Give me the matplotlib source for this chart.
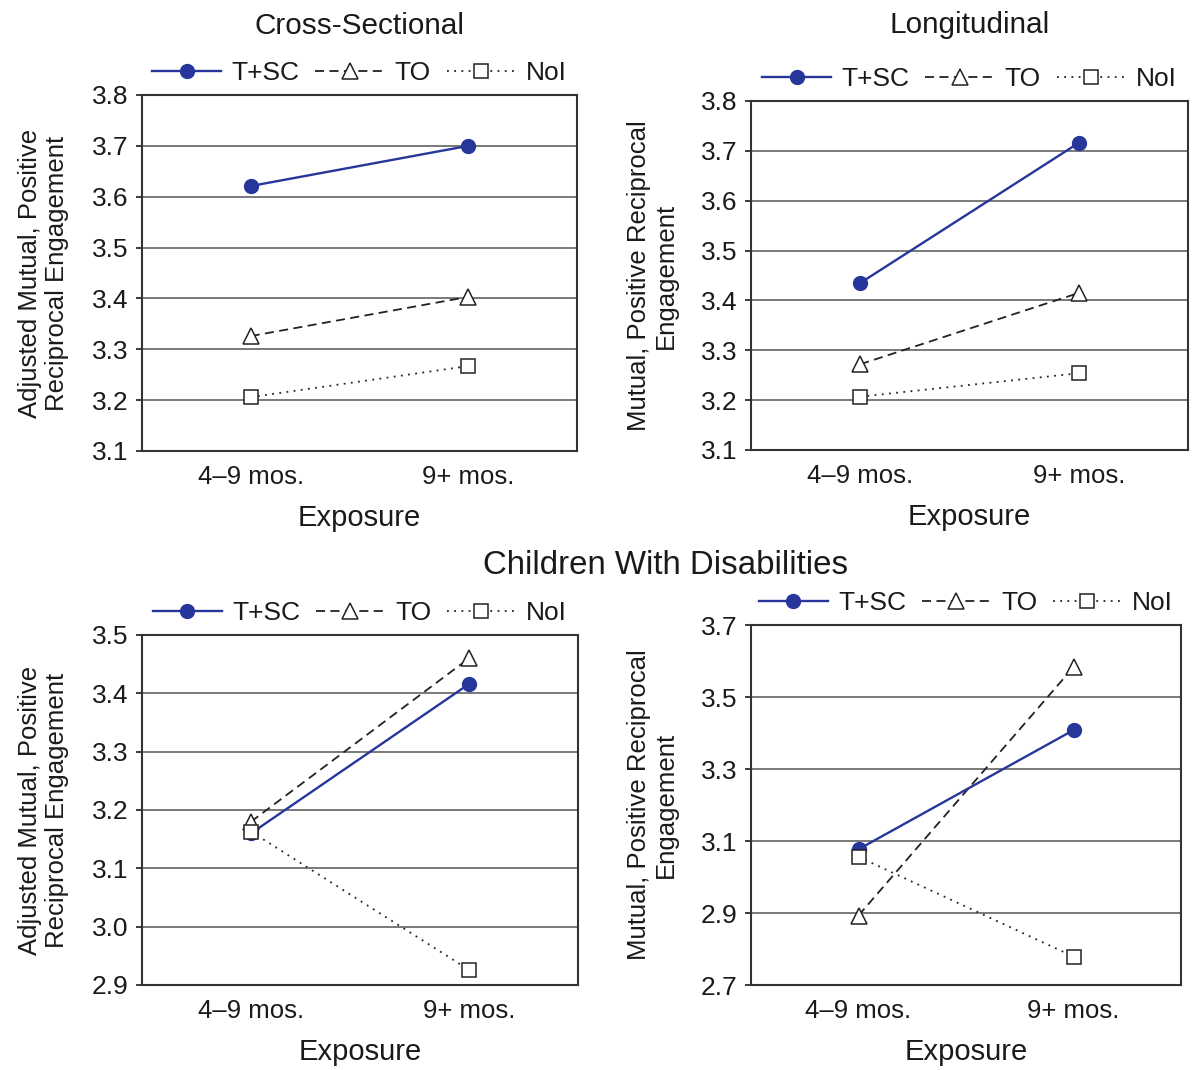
import numpy as np
import matplotlib
matplotlib.use("Agg")
import matplotlib.pyplot as plt

plt.rcParams['font.family'] = ['Liberation Sans', 'DejaVu Sans']

# --------------
# data
# --------------
exposure = ['4\u20139 mos.', '9+ mos.']
groups = ['T+SC', 'TO', 'NoI']

# all children, cross-sectional
cs_tsc = [3.621, 3.700]
cs_to = [3.326, 3.403]
cs_noi = [3.206, 3.267]

# all children, longitudinal
lg_tsc = [3.435, 3.716]
lg_to = [3.272, 3.415]
lg_noi = [3.207, 3.254]

# children with disabilities, cross-sectional
dcs_tsc = [3.160, 3.416]
dcs_to = [3.180, 3.460]
dcs_noi = [3.163, 2.926]

# children with disabilities, longitudinal
dlg_tsc = [3.077, 3.408]
dlg_to = [2.893, 3.583]
dlg_noi = [3.056, 2.779]

navy = '#27369a'
grid_c = '#555555'
txt_c = '#1a1a1a'

# --------------
# def: one panel
# --------------
def panel(ax, tsc, to, noi, ylim, ystep, ylabel, title=None, title_pad=0):
    x = np.arange(len(exposure))
    ax.plot(x, tsc, '-', color=navy, lw=1.7, marker='o', ms=10,
            mfc=navy, mec=navy, label=groups[0], zorder=5)
    ax.plot(x, to, color='#222222', lw=1.3, dashes=(5, 3), marker='^', ms=11,
            mfc='white', mec='#222222', mew=1.1, label=groups[1], zorder=4)
    ax.plot(x, noi, color='#222222', lw=1.3, dashes=(1, 3), marker='s', ms=10,
            mfc='white', mec='#222222', mew=1.1, label=groups[2], zorder=6)

    ax.set_xlim(-0.5, 1.5)
    ax.set_ylim(*ylim)
    yt = np.arange(ylim[0], ylim[1] + ystep / 2, ystep)
    ax.set_yticks(yt)
    ax.set_yticklabels(['%.1f' % v for v in yt])
    ax.set_xticks(x)
    ax.set_xticklabels(exposure)
    ax.tick_params(axis='x', length=0, pad=10, labelsize=18.5, colors=txt_c)
    ax.tick_params(axis='y', length=4, width=1.2, pad=6, labelsize=19,
                   colors=txt_c, direction='out')
    ax.yaxis.grid(True, color=grid_c, lw=1.1)
    ax.set_axisbelow(True)
    for s in ax.spines.values():
        s.set_color('#333333')
        s.set_linewidth(1.5)

    ax.set_xlabel('Exposure', fontsize=21, labelpad=11, color=txt_c)
    ax.set_ylabel(ylabel, fontsize=18.5, labelpad=16, color=txt_c,
                  linespacing=1.15)
    if title:
        ax.set_title(title, fontsize=21.4, pad=title_pad, color=txt_c)

    ax.legend(loc='center', bbox_to_anchor=(0.5, 1.0 + 22.0 / (ax.bbox.height)),
              ncol=3, frameon=False, fontsize=19, handlelength=2.6,
              handletextpad=0.4, columnspacing=0.6, borderpad=0,
              labelcolor=txt_c)


################################################################################
#   MAIN
################################################################################
W, H = 1193, 1070
fig = plt.figure(figsize=(W / 100, H / 100), dpi=100)

def px_axes(l, t, r, b):
    return fig.add_axes([l / W, 1 - b / H, (r - l) / W, (b - t) / H])

ax1 = px_axes(142, 95, 577, 451)
ax2 = px_axes(751, 101, 1188, 450)
ax3 = px_axes(142, 635, 578, 985)
ax4 = px_axes(751, 625, 1181, 985)

lab_adj = 'Adjusted Mutual, Positive\nReciprocal Engagement'
lab_mut = 'Mutual, Positive Reciprocal\nEngagement'

panel(ax1, cs_tsc, cs_to, cs_noi, (3.1, 3.8), 0.1, lab_adj,
      'Cross-Sectional', 44)
panel(ax2, lg_tsc, lg_to, lg_noi, (3.1, 3.8), 0.1, lab_mut,
      'Longitudinal', 49)
panel(ax3, dcs_tsc, dcs_to, dcs_noi, (2.9, 3.5), 0.1, lab_adj)
panel(ax4, dlg_tsc, dlg_to, dlg_noi, (2.7, 3.7), 0.2, lab_mut)

fig.text(666 / W, 1 - 566 / H, 'Children With Disabilities', fontsize=23.8,
         ha='center', va='center', color=txt_c)

plt.savefig('out.png', dpi=100)
